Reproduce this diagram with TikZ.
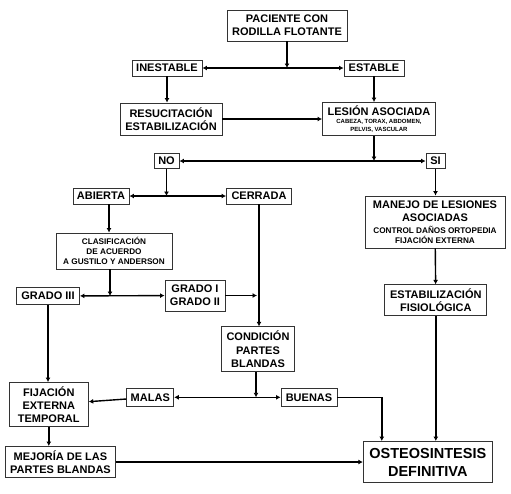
\documentclass[tikz,border=0pt]{standalone}
\usepackage{fontspec}
\setsansfont{Liberation Sans}
\usetikzlibrary{arrows.meta,positioning}
\tikzset{
    boite/.style={draw=black!80, line width=0.9pt, fill=white, align=center, inner sep=1pt,
        font=\sffamily\bfseries\fontsize{11}{13.3}\selectfont},
    fleche/.style={line width=1.4pt, -{Latex[length=4.5pt,width=5pt]}},
    deuxfleches/.style={line width=1.4pt, {Latex[length=4.5pt,width=5pt]}-{Latex[length=4.5pt,width=5pt]}}
}
\newcommand{\petit}{\fontsize{6}{7}\selectfont}
\newcommand{\moyen}{\fontsize{8.2}{10}\selectfont}
\begin{document}
\begin{tikzpicture}[x=1pt,y=-1pt]
    \useasboundingbox (0,0) rectangle (511,493);
    % Cases du haut
    \node[boite, minimum width=120pt, minimum height=31pt] (paciente) at (287,25.5) {PACIENTE CON\\RODILLA FLOTANTE};
    \node[boite, minimum width=70pt, minimum height=16pt] (inestable) at (167,68) {INESTABLE};
    \node[boite, minimum width=60pt, minimum height=16pt] (estable) at (374,68) {ESTABLE};
    \node[boite, minimum width=102pt, minimum height=32pt] (resucitacion) at (171,119) {RESUCITACIÓN\\ESTABILIZACIÓN};
    \node[boite, minimum width=113pt, minimum height=33pt] (lesion) at (379,119) {LESIÓN ASOCIADA\\[-5pt]\petit CABEZA, TORAX, ABDOMEN,\\[-5.7pt]\petit PELVIS, VASCULAR};
    \node[boite, minimum width=25pt, minimum height=15pt] (no) at (166.5,161) {NO};
    \node[boite, minimum width=19pt, minimum height=15pt] (si) at (435.5,161) {SI};
    % Branche NO
    \node[boite, minimum width=56pt, minimum height=16pt] (abierta) at (101,196) {ABIERTA};
    \node[boite, minimum width=65pt, minimum height=16pt] (cerrada) at (259,196) {CERRADA};
    \node[boite, minimum width=116pt, minimum height=36pt] (clasificacion) at (114,251) {\moyen CLASIFICACIÓN\\[-3pt]\moyen DE ACUERDO\\[-3pt]\moyen A GUSTILO Y ANDERSON};
    \node[boite, minimum width=63pt, minimum height=17pt] (grado3) at (48,296) {GRADO III};
    \node[boite, minimum width=60pt, minimum height=31pt] (grado12) at (195,295.5) {GRADO I\\GRADO II};
    \node[boite, minimum width=73pt, minimum height=45pt] (condicion) at (258,349.3) {CONDICIÓN\\PARTES\\BLANDAS};
    \node[boite, minimum width=47pt, minimum height=18pt] (malas) at (150.3,397.3) {MALAS};
    \node[boite, minimum width=56pt, minimum height=18pt] (buenas) at (309,397.3) {BUENAS};
    \node[boite, minimum width=79pt, minimum height=44pt] (fijacion) at (48.8,404.5) {FIJACIÓN\\EXTERNA\\TEMPORAL};
    \node[boite, minimum width=110pt, minimum height=31pt] (mejoria) at (60.5,462) {MEJORÍA DE LAS\\PARTES BLANDAS};
    % Branche SI
    \node[boite, minimum width=140pt, minimum height=52pt] (manejo) at (435,222) {MANEJO DE LESIONES\\ASOCIADAS\\[-1.8pt]\moyen CONTROL DAÑOS ORTOPEDIA\\[-3.3pt]\moyen FIJACIÓN EXTERNA};
    \node[boite, minimum width=102pt, minimum height=31pt] (estabilizacion) at (435.8,300.3) {ESTABILIZACIÓN\\FISIOLÓGICA};
    \node[boite, minimum width=129pt, minimum height=41pt, font=\sffamily\bfseries\fontsize{14.5}{18}\selectfont] (osteo) at (427.8,462) {OSTEOSINTESIS\\DEFINITIVA};
    % Fleches
    \draw[fleche] (paciente) -- (paciente |- inestable);
    \draw[deuxfleches] (inestable) -- (estable);
    \draw[fleche] (inestable) -- (inestable |- resucitacion.north);
    \draw[fleche] (resucitacion) -- (lesion);
    \draw[fleche] (estable) -- (estable |- lesion.north);
    \draw[fleche] (lesion.south -| estable) -- (estable |- no);
    \draw[deuxfleches] (no) -- (si);
    \draw[fleche] (no) -- (no |- abierta);
    \draw[deuxfleches] (abierta) -- (cerrada);
    \draw[fleche] (si) -- (si |- manejo.north);
    \draw[fleche] ([xshift=8pt]abierta.south) -- ([xshift=8pt]abierta.south |- clasificacion.north);
    \draw[fleche] ([xshift=-4pt]clasificacion.south) -- ([xshift=-4pt]clasificacion.south |- grado3);
    \draw[deuxfleches] (grado3) -- (grado12);
    \draw[fleche] (grado12) -- ([xshift=-2pt]grado12 -| cerrada);
    \draw[fleche] (cerrada) -- (cerrada |- condicion.north);
    \draw[fleche] ([xshift=-2pt]condicion.south) -- ([xshift=-2pt]condicion.south |- malas);
    \draw[deuxfleches] (malas) -- (buenas);
    \draw[fleche] (malas) -- (fijacion);
    \draw[fleche] (grado3) -- (grado3 |- fijacion.north);
    \draw[fleche] (fijacion) -- (fijacion |- mejoria.north);
    \draw[fleche] (mejoria) -- (osteo);
    \draw[fleche] (buenas) -| ([xshift=-46pt]osteo.north);
    \draw[fleche] (manejo) -- (estabilizacion);
    \draw[fleche] (estabilizacion) -- (estabilizacion |- osteo.north);
\end{tikzpicture}
\end{document}
